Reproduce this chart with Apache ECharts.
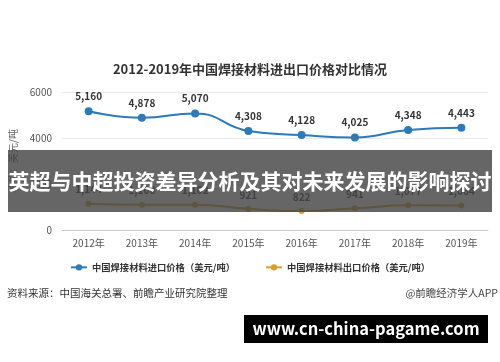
<!DOCTYPE html>
<html><head><meta charset="utf-8">
<script src="https://cdn.jsdelivr.net/npm/echarts@6/dist/echarts.min.js"></script>
<style>html,body{margin:0;padding:0;background:#fff}#c{width:500px;height:362px}</style>
</head><body><div id="c"></div>
<script>
var categories = ['2012年','2013年','2014年','2015年','2016年','2017年','2018年','2019年'];
var importPrice = [5160, 4878, 5070, 4308, 4128, 4025, 4348, 4443];
var exportPrice = [1144, 1100, 1102, 921, 822, 941, 1077, 1064];
var yTicks = {min: 0, max: 6000, interval: 2000};
var titleText = '2012-2019年中国焊接材料进出口价格对比情况';
var importName = '中国焊接材料进口价格（美元/吨）';
var exportName = '中国焊接材料出口价格（美元/吨）';
var sourceText = '资料来源：中国海关总署、前瞻产业研究院整理';
var creditText = '@前瞻经济学人APP';
var bannerText = '英超与中超投资差异分析及其对未来发展的影响探讨';
var siteText = 'www.cn-china-pagame.com';

var font = '"Noto Sans CJK SC", "Noto Sans", sans-serif';
var chart = echarts.init(document.getElementById('c'));
function fmt(p){ return p.value.toLocaleString('en-US'); }
chart.setOption({
  animation: false,
  textStyle: {fontFamily: font},
  title: {text: titleText, left: 'center', top: 58,
    textStyle: {fontSize: 13, fontWeight: 'bold', color: '#333', fontFamily: font}},
  grid: {left: 62, right: 12, top: 92, bottom: 132},
  legend: {bottom: 85, left: 'center', itemGap: 30, itemWidth: 16, itemHeight: 8,
    textStyle: {fontSize: 9.3, color: '#333', fontWeight: 'bold'},
    data: [importName, exportName]},
  xAxis: {type: 'category', data: categories, boundaryGap: true,
    axisLine: {lineStyle: {color: '#ccc'}},
    axisTick: {alignWithLabel: true, lineStyle: {color: '#ccc'}},
    axisLabel: {color: '#555', fontSize: 10, margin: 8}},
  yAxis: {type: 'value', min: yTicks.min, max: yTicks.max, interval: yTicks.interval,
    name: '单位：美元/吨', nameLocation: 'middle', nameGap: 44, nameRotate: 90,
    nameTextStyle: {color: '#666', fontSize: 10},
    axisLabel: {color: '#555', fontSize: 10, margin: 10, formatter: function(v){ return String(v); }},
    splitLine: {lineStyle: {color: '#e8e8e8'}}},
  series: [
    {name: importName, type: 'line', data: importPrice, smooth: true,
     symbol: 'circle', symbolSize: 8,
     itemStyle: {color: '#2b7bbb'}, lineStyle: {color: '#2b7bbb', width: 2},
     label: {show: true, position: 'top', distance: 6, formatter: fmt,
       color: '#333', fontSize: 10, fontWeight: 'bold'}},
    {name: exportName, type: 'line', data: exportPrice, smooth: true,
     symbol: 'circle', symbolSize: 6,
     itemStyle: {color: '#d4a02a'}, lineStyle: {color: '#d4a02a', width: 2},
     label: {show: true, position: 'top', distance: 6, formatter: fmt,
       color: '#333', fontSize: 10, fontWeight: 'bold'}}
  ],
  graphic: [
    {type: 'text', left: 7, top: 288, style: {text: sourceText, fill: '#333', fontSize: 10.5, fontFamily: font}},
    {type: 'text', right: 2, top: 288, style: {text: creditText, fill: '#444', fontSize: 10.5, fontFamily: font}},
    {type: 'rect', shape: {x: 8, y: 150, width: 484, height: 62}, style: {fill: 'rgba(68,68,68,0.82)'}, z: 100},
    {type: 'text', x: 250, y: 181, z: 101,
     style: {text: bannerText, fill: '#fff', fontSize: 21, fontWeight: 'bold', fontFamily: font,
       align: 'center', verticalAlign: 'middle'}},
    {type: 'rect', shape: {x: 244, y: 315, width: 244, height: 28}, style: {fill: '#000'}, z: 100},
    {type: 'text', x: 366, y: 329, z: 101,
     style: {text: siteText, fill: '#fff', fontSize: 16.5, fontWeight: 'bold', fontFamily: font,
       align: 'center', verticalAlign: 'middle'}}
  ]
});
</script></body></html>
